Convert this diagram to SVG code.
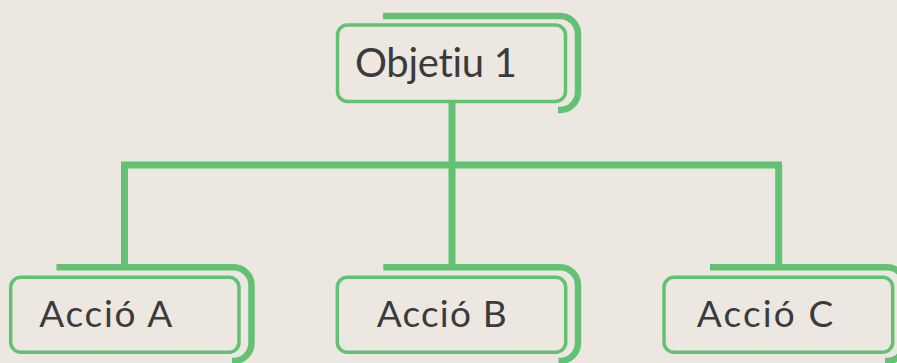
<svg xmlns="http://www.w3.org/2000/svg" width="897" height="363" viewBox="0 0 897 363">
  <style>
    .box { fill: none; stroke: #63c174; stroke-width: 3.5; }
    .bracket { fill: none; stroke: #63c174; stroke-width: 6.5; }
    .link { fill: none; stroke: #63c174; stroke-width: 7; stroke-linecap: butt; }
    .label { font-family: Lato, "Liberation Sans", sans-serif; font-weight: 400; fill: #3b3b3b; font-variant-ligatures: none; }
  </style>
  <rect width="897" height="363" fill="#ece8e1"/>

  <!-- connectors -->
  <g id="connectors">
    <path class="link" d="M452,101 V165"/>
    <path class="link" d="M121,165 H782"/>
    <path class="link" d="M124.5,165 V267"/>
    <path class="link" d="M452,165 V267"/>
    <path class="link" d="M778.7,165 V267"/>
  </g>

  <!-- root objective -->
  <g id="objetiu1">
    <path class="bracket" d="M383,16 H560 A18,18 0 0 1 578,34 V92 A18,18 0 0 1 560,110 H558"/>
    <rect class="box" x="337.5" y="25" width="228" height="76.5" rx="10"/>
    <text class="label" x="355" y="76.5" font-size="40" textLength="162" lengthAdjust="spacing">Objetiu 1</text>
  </g>

  <!-- actions -->
  <g id="accio-a">
    <path class="bracket" d="M56.5,267.3 H233.5 A18,18 0 0 1 251.5,285.3 V343 A18,18 0 0 1 233.5,361 H232"/>
    <rect class="box" x="10.7" y="277.3" width="228.3" height="75" rx="10"/>
    <text class="label" x="39.3" y="326.7" font-size="37" textLength="133" lengthAdjust="spacing">Acció A</text>
  </g>

  <g id="accio-b">
    <path class="bracket" d="M383.3,267.3 H560 A18,18 0 0 1 578,285.3 V343 A18,18 0 0 1 560,361 H558.5"/>
    <rect class="box" x="337.3" y="277.3" width="228.4" height="75" rx="10"/>
    <text class="label" x="376.7" y="326.7" font-size="37" textLength="130" lengthAdjust="spacing">Acció B</text>
  </g>

  <g id="accio-c">
    <path class="bracket" d="M710,267.3 H887 A18,18 0 0 1 905,285.3 V343 A18,18 0 0 1 887,361 H885"/>
    <rect class="box" x="664" y="277.3" width="228.7" height="75" rx="10"/>
    <text class="label" x="696.7" y="326.7" font-size="37" textLength="136.6" lengthAdjust="spacing">Acció C</text>
  </g>
</svg>
